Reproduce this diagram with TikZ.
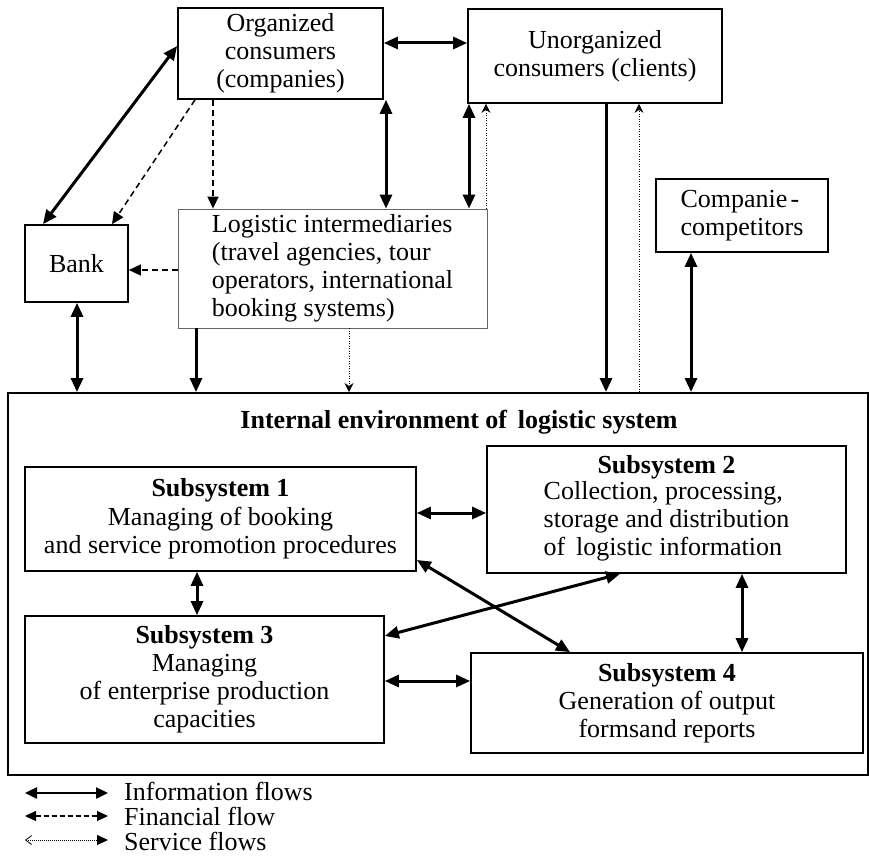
\documentclass[tikz,border=0pt]{standalone}
\usepackage{fontspec}
\setmainfont{Liberation Serif}
\usetikzlibrary{arrows.meta}

\newcommand\dfont{\fontsize{26}{28}\selectfont}

\begin{document}
\begin{tikzpicture}[x=1pt,y=-1pt,
  box/.style={draw,line width=1.7pt,inner sep=0pt,align=center,font=\dfont},
  thinbox/.style={draw=black!60,line width=0.8pt,inner sep=0pt,align=left,font=\dfont},
  lbl/.style={inner sep=0pt,font=\dfont},
  tip/.tip={Triangle[length=14pt,width=12pt]},
  stip/.tip={Stealth[length=9pt,width=9pt]},
  info/.style={line width=3pt,tip-tip},
  infoto/.style={line width=3pt,-tip},
  fin/.style={line width=1.5pt,dash pattern=on 6pt off 4pt,-{Triangle[length=12pt,width=11pt]}},
  fintwo/.style={line width=1.2pt,dash pattern=on 5pt off 3pt,{Triangle[length=11pt,width=10pt]}-{Triangle[length=11pt,width=10pt]}},
  serv/.style={line width=0.9pt,dash pattern=on 1pt off 1.5pt,-stip},
]
\useasboundingbox (0,0) rectangle (870,858);
\fill[white] (0,0) rectangle (870,858);

% outer actors
\node[box,minimum width=205pt,minimum height=91pt] (org) at (280.5,53.5)
  {Organized\\consumers\\(companies)};
\node[box,minimum width=254pt,minimum height=94pt] (unorg) at (595,56)
  {Unorganized\\consumers (clients)};
\node[box,minimum width=103pt,minimum height=77pt] (bank) at (76.5,263.5) {Bank};
\node[thinbox,minimum width=309pt,minimum height=119pt] (logi) at (332.5,268.5)
  {Logistic intermediaries\\(travel agencies, tour\\operators, international\\booking systems)};
\node[box,align=left,minimum width=172pt,minimum height=73pt] (comp) at (742,215.5)
  {Companie\hspace{3pt}-\\competitors};

% internal environment
\node[draw,line width=1.9pt,inner sep=0pt,minimum width=860pt,minimum height=382pt] (env) at (438,584) {};
\node[lbl,font=\dfont\bfseries] (envt) at (459,422) {Internal environment of\, logistic system};

\node[box,minimum width=391pt,minimum height=104pt] (s1) at (220.5,519)
  {\textbf{Subsystem 1}\\[1pt]Managing of booking\\and service promotion procedures};
\node[box,minimum width=359pt,minimum height=127pt] (s2) at (666.5,509.5)
  {\textbf{Subsystem 2}\\\begin{tabular}{@{}l@{}}Collection, processing,\\storage and distribution\\of\, logistic information\end{tabular}};
\node[box,minimum width=359pt,minimum height=127pt] (s3) at (204.5,679.5)
  {\textbf{Subsystem 3}\\Managing\\of enterprise production\\capacities};
\node[box,minimum width=392pt,minimum height=100pt] (s4) at (667,703)
  {\textbf{Subsystem 4}\\Generation of output\\formsand reports};

% flows between the outer actors
\draw[info] (bank.north -| 43,0) -- (org.west |- 0,46);
\draw[info] (org.east |- 0,43) -- (unorg.west |- 0,43);
\draw[fin] (org.south -| 195,0) -- (bank.north -| 112,0);
\draw[fin] (org.south -| 213,0) -- (logi.north -| 213,0);
\draw[info] (org.south -| 386,0) -- (logi.north -| 386,0);
\draw[info] (unorg.south -| 469,0) -- (logi.north -| 469,0);
\draw[serv] (logi.north -| 486,0) -- (unorg.south -| 486,0);
\draw[fin] (logi.west |- 0,270) -- (bank.east |- 0,270);

% flows into the internal environment
\draw[info] (bank.south -| 77,0) -- (env.north -| 77,0);
\draw[infoto] (logi.south -| 196,0) -- (env.north -| 196,0);
\draw[serv] (logi.south -| 349,0) -- (env.north -| 349,0);
\draw[infoto] (unorg.south -| 606,0) -- (env.north -| 606,0);
\draw[serv] (env.north -| 639,0) -- (unorg.south -| 639,0);
\draw[info] (comp.south -| 691,0) -- (env.north -| 691,0);

% flows between subsystems
\draw[info] (s1.east |- 0,513) -- (s2.west |- 0,513);
\draw[info] (s1.south -| 197,0) -- (s3.north -| 197,0);
\draw[info] (s3.east |- 0,636) -- (s2.south -| 620,0);
\draw[info] (s1.east |- 0,560) -- (s4.north -| 570,0);
\draw[info] (s3.east |- 0,681) -- (s4.west |- 0,681);
\draw[info] (s2.south -| 742,0) -- (s4.north -| 742,0);

% legend
\coordinate (la1) at (25,793);  \coordinate (lb1) at (108,793);
\coordinate (la2) at (25,816);  \coordinate (lb2) at (108,816);
\coordinate (la3) at (25,840);  \coordinate (lb3) at (108,840);
\draw[line width=2.4pt,{Triangle[length=12pt,width=11pt]}-{Triangle[length=12pt,width=11pt]}] (la1) -- (lb1);
\draw[fintwo] (la2) -- (lb2);
\draw[line width=0.8pt,dash pattern=on 1pt off 1pt,{Straight Barb[length=6pt,width=9pt]}-{Triangle[length=11pt,width=10pt]}] (la3) -- (lb3);
\node[lbl,anchor=north west,align=left,font=\fontsize{26}{25}\selectfont] (leg) at (124,782)
  {Information flows\\Financial flow\\Service flows};
\end{tikzpicture}
\end{document}
